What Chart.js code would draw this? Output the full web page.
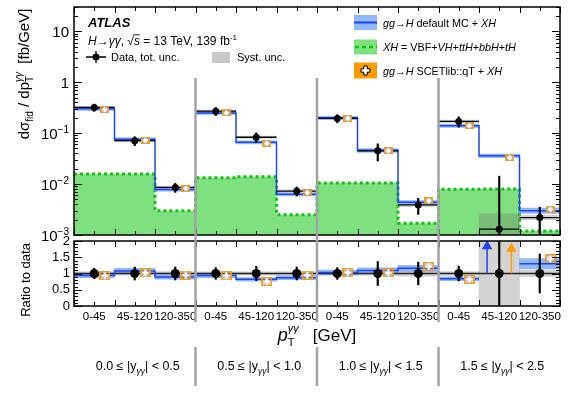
<!DOCTYPE html>
<html>
<head>
<meta charset="utf-8">
<script src="https://cdn.jsdelivr.net/npm/chart.js@4.4.1/dist/chart.umd.min.js"></script>
<style>
  html, body { margin: 0; padding: 0; background: #fff; }
  #wrap { position: relative; width: 581px; height: 394px; }
  canvas { position: absolute; left: 0; top: 0; }
</style>
</head>
<body>
<div id="wrap">
  <canvas id="mainChart" width="581" height="394"></canvas>
  <canvas id="ratioChart" width="581" height="394"></canvas>
</div>
<script>
// ---- Data (12 bins = 4 rapidity slices x 3 pT bins) ----
const binLabels = ['0-45', '45-120', '120-350', '0-45', '45-120', '120-350', '0-45', '45-120', '120-350', '0-45', '45-120', '120-350'];
const rapidityLow = ['0.0', '0.5', '1.0', '1.5'];
const rapidityHigh = ['0.5', '1.0', '1.5', '2.5'];

// fb/GeV
const dataXs = [0.32, 0.071, 0.0086, 0.27, 0.083, 0.0073, 0.195, 0.045, 0.0039, 0.17, 0.0013, 0.0022];
const dataTotUnc = [0.16, 0.2, 0.2, 0.18, 0.22, 0.2, 0.18, 0.37, 0.35, 0.23, 10, 0.6];     // relative
const dataSystUnc = [0.05, 0.05, 0.06, 0.05, 0.05, 0.06, 0.05, 0.06, 0.08, 0.06, 1.0, 0.1]; // relative
const defaultMC = [0.30, 0.076, 0.0078, 0.25, 0.066, 0.0063, 0.20, 0.046, 0.0044, 0.14, 0.036, 0.0030];
const defaultMCUnc = [0.07, 0.07, 0.07, 0.07, 0.07, 0.07, 0.07, 0.08, 0.08, 0.07, 0.08, 0.12];
const xhOnly = [0.0157, 0.0157, 0.0030, 0.0133, 0.0139, 0.0025, 0.0105, 0.0105, 0.0017, 0.0079, 0.0080, 0.0012];
const scetlib = [0.29, 0.072, 0.0082, 0.25, 0.063, 0.0068, 0.195, 0.045, 0.0047, 0.14, 0.033, 0.0032];

// ratio to data (null = off scale, drawn as arrow)
const ratioMC = [0.94, 1.08, 0.89, 0.94, 0.82, 0.87, 1.03, 1.09, 1.16, 0.84, null, 1.30];
const ratioSCET = [0.93, 1.02, 0.95, 0.93, 0.75, 0.95, 1.03, 1.02, 1.22, 0.82, null, 1.45];

const yTicksMain = [1e-3, 1e-2, 1e-1, 1, 10];
const yTicksRatio = [0, 0.5, 1, 1.5, 2];

const NB = 3; // pT bins per slice
const NBINS = dataXs.length;
const binCenters = dataXs.map((_, i) => i + 0.5);

// ---- Colours ----
const BLUE = '#1e46f0';
const BLUE_BAND = 'rgba(105,160,255,0.75)';
const GREEN_FILL = '#7fe07f';
const GREEN_LINE = '#12c412';
const ORANGE = '#ff9a00';
const SYST = 'rgba(110,110,110,0.3)';
const SEP = '#a3a3a3';
const FONT = '"Liberation Sans", Arial, Helvetica, sans-serif';

// ---- helpers ----
function histPoints(values, breakEvery) {
  const pts = [];
  values.forEach((v, i) => {
    if (v == null) { pts.push({ x: i + 1, y: null }); return; }
    pts.push({ x: i, y: v }, { x: i + 1, y: v });
    if (breakEvery && (i + 1) % breakEvery === 0) pts.push({ x: i + 1, y: null });
  });
  return pts;
}
function bandBars(values, rel, floor) {
  return values.map((v, i) => v == null ? null : { x: i + 0.5, y: [Math.max(v * (1 - rel[i]), floor), v * (1 + rel[i])] })
    .filter(p => p);
}
function fontOf(p) { return `${p.style || 'normal'} ${p.size || 12}px ${FONT}`; }
function richWidth(ctx, parts) {
  let w = 0, held = 0;
  parts.forEach(p => {
    ctx.font = fontOf(p);
    const pw = ctx.measureText(p.t).width;
    if (p.hold) { held = pw; return; }
    w += Math.max(pw, held); held = 0;
  });
  return w + held;
}
function drawRich(ctx, parts, x, y, align) {
  const w = richWidth(ctx, parts);
  let cx = align === 'center' ? x - w / 2 : align === 'right' ? x - w : x;
  let held = 0;
  ctx.textAlign = 'left';
  ctx.textBaseline = 'alphabetic';
  parts.forEach(p => {
    ctx.font = fontOf(p);
    const pw = ctx.measureText(p.t).width;
    ctx.fillText(p.t, cx, y + (p.dy || 0));
    if (p.over) {
      ctx.beginPath();
      ctx.moveTo(cx - 1, y - p.size * 0.85);
      ctx.lineTo(cx + pw, y - p.size * 0.85);
      ctx.lineWidth = 0.8;
      ctx.stroke();
    }
    if (p.hold) { held = pw; return; }
    cx += Math.max(pw, held); held = 0;
  });
}
function plusPath(g, cx, cy, arm, half) {
  g.beginPath();
  g.moveTo(cx - half, cy - arm); g.lineTo(cx + half, cy - arm); g.lineTo(cx + half, cy - half);
  g.lineTo(cx + arm, cy - half); g.lineTo(cx + arm, cy + half); g.lineTo(cx + half, cy + half);
  g.lineTo(cx + half, cy + arm); g.lineTo(cx - half, cy + arm); g.lineTo(cx - half, cy + half);
  g.lineTo(cx - arm, cy + half); g.lineTo(cx - arm, cy - half); g.lineTo(cx - half, cy - half);
  g.closePath();
}
function scetMarker(w, h, arm) {
  const c = document.createElement('canvas');
  c.width = w; c.height = h;
  const g = c.getContext('2d');
  g.strokeStyle = ORANGE; g.lineWidth = 1.6;
  g.strokeRect(0.8, 0.8, w - 1.6, h - 1.6);
  plusPath(g, w / 2, h / 2, arm, 1.4);
  g.fillStyle = '#fff'; g.fill();
  g.strokeStyle = '#999'; g.lineWidth = 0.7; g.stroke();
  return c;
}
function drawFrame(ctx, a, x, yScale, major, minor, majLen, minLen) {
  ctx.strokeStyle = '#000';
  ctx.lineWidth = 1;
  ctx.beginPath();
  for (let v = 0; v <= NBINS; v += 0.5) {
    const px = Math.round(x.getPixelForValue(v)) + 0.5;
    const len = Number.isInteger(v) ? 6 : 4;
    ctx.moveTo(px, a.bottom); ctx.lineTo(px, a.bottom - len);
    ctx.moveTo(px, a.top); ctx.lineTo(px, a.top + len);
  }
  major.forEach(v => {
    const py = Math.round(yScale.getPixelForValue(v)) + 0.5;
    ctx.moveTo(a.left, py); ctx.lineTo(a.left + majLen, py);
    ctx.moveTo(a.right, py); ctx.lineTo(a.right - majLen, py);
  });
  minor.forEach(v => {
    const py = Math.round(yScale.getPixelForValue(v)) + 0.5;
    ctx.moveTo(a.left, py); ctx.lineTo(a.left + minLen, py);
    ctx.moveTo(a.right, py); ctx.lineTo(a.right - minLen, py);
  });
  ctx.stroke();
  ctx.lineWidth = 1.5;
  ctx.strokeRect(a.left, a.top, a.right - a.left, a.bottom - a.top);
}

const yMinorMain = [];
yTicksMain.forEach(d => { for (let k = 2; k <= 9; k++) if (k * d <= 30) yMinorMain.push(k * d); });
const yMinorRatio = [];
for (let v = 0.1; v < 2; v += 0.1) if (Math.abs(v * 2 - Math.round(v * 2)) > 1e-6) yMinorRatio.push(v);

// ---- Main panel decorations ----
const mainDecor = {
  id: 'mainDecor',
  afterDraw(chart) {
    const { ctx, chartArea: a, scales: { x, y } } = chart;
    ctx.save();
    ctx.fillStyle = '#000';
    drawFrame(ctx, a, x, y, yTicksMain, yMinorMain, 8, 4);

    // y tick labels
    yTicksMain.forEach(v => {
      const e = Math.round(Math.log10(v));
      const parts = e < 0
        ? [{ t: '10', size: 15 }, { t: '−' + (-e), size: 10, dy: -6 }]
        : [{ t: e === 0 ? '1' : '10', size: 15 }];
      drawRich(ctx, parts, a.left - 5, y.getPixelForValue(v) + 5.5, 'right');
    });

    // y title
    ctx.save();
    ctx.translate(29, 74);
    ctx.rotate(-Math.PI / 2);
    drawRich(ctx, [
      { t: 'dσ', size: 15 }, { t: 'fid', size: 10, dy: 4 }, { t: ' / dp', size: 15 },
      { t: 'γγ', size: 10, style: 'italic', dy: -7, hold: true }, { t: 'T', size: 10, dy: 4 },
      { t: '  [fb/GeV]', size: 15 }
    ], 0, 0, 'center');
    ctx.restore();

    // ATLAS label
    drawRich(ctx, [{ t: 'ATLAS', style: 'italic bold', size: 13 }], 88, 27, 'left');
    ctx.strokeStyle = '#000';
    drawRich(ctx, [
      { t: 'H', style: 'italic', size: 12 }, { t: '→', size: 12 }, { t: 'γγ', style: 'italic', size: 12 },
      { t: ', √', size: 12 }, { t: 's', style: 'italic', size: 12, over: true },
      { t: ' = 13 TeV, 139 fb', size: 12 }, { t: '-1', size: 8, dy: -5 }
    ], 88, 45, 'left');

    // data legend entry
    ctx.lineWidth = 1.3;
    ctx.beginPath();
    ctx.moveTo(86, 57); ctx.lineTo(106, 57);
    ctx.moveTo(96, 51); ctx.lineTo(96, 63);
    ctx.stroke();
    ctx.beginPath(); ctx.arc(96, 57, 3.5, 0, Math.PI * 2); ctx.fill();
    drawRich(ctx, [{ t: 'Data, tot. unc.', size: 11 }], 111, 61, 'left');
    ctx.fillStyle = '#c8c8c8';
    ctx.fillRect(212, 52, 18, 11);
    ctx.fillStyle = '#000';
    drawRich(ctx, [{ t: 'Syst. unc.', size: 11 }], 237, 61, 'left');

    // right legend
    ctx.fillStyle = BLUE_BAND; ctx.fillRect(354, 15, 23, 15);
    ctx.strokeStyle = BLUE; ctx.lineWidth = 2;
    ctx.beginPath(); ctx.moveTo(354, 22.5); ctx.lineTo(377, 22.5); ctx.stroke();
    ctx.fillStyle = GREEN_FILL; ctx.fillRect(354, 39.5, 23, 15);
    ctx.strokeStyle = GREEN_LINE; ctx.lineWidth = 2.5; ctx.setLineDash([4, 3]);
    ctx.beginPath(); ctx.moveTo(355, 47); ctx.lineTo(377, 47); ctx.stroke();
    ctx.setLineDash([]);
    ctx.fillStyle = ORANGE; ctx.fillRect(354, 62.5, 23, 16);
    plusPath(ctx, 365.5, 70.5, 4.5, 1.7);
    ctx.fillStyle = '#fff'; ctx.fill();
    ctx.strokeStyle = '#000'; ctx.lineWidth = 1; ctx.stroke();

    ctx.fillStyle = '#000';
    const it = 'italic', fs = 10.8;
    drawRich(ctx, [{ t: 'gg', style: it, size: fs }, { t: '→', size: fs }, { t: 'H', style: it, size: fs },
      { t: ' default MC + ', size: fs }, { t: 'XH', style: it, size: fs }], 383, 26.5, 'left');
    drawRich(ctx, [{ t: 'XH', style: it, size: fs }, { t: ' = VBF+', size: fs }, { t: 'VH', style: it, size: fs },
      { t: '+', size: fs }, { t: 'ttH', style: it, size: fs }, { t: '+', size: fs }, { t: 'bbH', style: it, size: fs },
      { t: '+', size: fs }, { t: 'tH', style: it, size: fs }], 383, 51, 'left');
    drawRich(ctx, [{ t: 'gg', style: it, size: fs }, { t: '→', size: fs }, { t: 'H', style: it, size: fs },
      { t: ' SCETlib::qT + ', size: fs }, { t: 'XH', style: it, size: fs }], 383, 74.5, 'left');
    ctx.restore();
  }
};

// ---- Ratio panel + bottom decorations ----
const ratioDecor = {
  id: 'ratioDecor',
  afterDraw(chart) {
    const { ctx, chartArea: a, scales: { x, y } } = chart;
    ctx.save();
    ctx.fillStyle = '#000';
    drawFrame(ctx, a, x, y, yTicksRatio, yMinorRatio, 8, 4);

    // slice separators
    ctx.strokeStyle = SEP;
    ctx.lineWidth = 2.5;
    ctx.beginPath();
    for (let g = 1; g < rapidityLow.length; g++) {
      const px = x.getPixelForValue(g * NB);
      ctx.moveTo(px, 78); ctx.lineTo(px, 322);
      ctx.moveTo(px, 347); ctx.lineTo(px, 386);
    }
    ctx.stroke();

    // ratio title
    ctx.save();
    ctx.translate(30, 280);
    ctx.rotate(-Math.PI / 2);
    drawRich(ctx, [{ t: 'Ratio to data', size: 13 }], 0, 0, 'center');
    ctx.restore();

    // x title
    drawRich(ctx, [
      { t: 'p', style: 'italic', size: 18 }, { t: 'γγ', style: 'italic', size: 11, dy: -9, hold: true },
      { t: 'T', size: 11, dy: 5 }, { t: '   [GeV]', size: 17 }
    ], (a.left + a.right) / 2, 341, 'center');

    // slice labels
    rapidityLow.forEach((lo, g) => {
      const cx = x.getPixelForValue(g * NB + NB / 2);
      drawRich(ctx, [
        { t: lo + ' ≤ |y', size: 12.5 }, { t: 'γγ', style: 'italic', size: 8.5, dy: 4 },
        { t: '| < ' + rapidityHigh[g], size: 12.5 }
      ], cx + 3, 370, 'center');
    });
    ctx.restore();
  }
};

// ---- Main chart ----
const centerTicks = s => { s.ticks = binCenters.map(v => ({ value: v })); };
const SCET_OFFSET = 0.26;

new Chart(document.getElementById('mainChart'), {
  type: 'scatter',
  data: {
    datasets: [
      { type: 'line', data: histPoints(xhOnly), borderColor: GREEN_LINE, backgroundColor: GREEN_FILL,
        borderWidth: 3, borderDash: [3, 3], fill: 'start', pointRadius: 0, order: 10 },
      { type: 'bar', data: bandBars(dataXs, dataSystUnc, 1e-5), backgroundColor: SYST,
        grouped: false, barPercentage: 1, categoryPercentage: 1, order: 9 },
      { type: 'bar', data: bandBars(defaultMC, defaultMCUnc, 1e-5), backgroundColor: BLUE_BAND,
        grouped: false, barPercentage: 1, categoryPercentage: 1, order: 8 },
      { type: 'line', data: histPoints(defaultMC, NB), borderColor: BLUE, borderWidth: 1.5,
        pointRadius: 0, spanGaps: false, order: 7 },
      { type: 'line', data: histPoints(dataXs, 1), borderColor: '#000', borderWidth: 1.3,
        pointRadius: 0, spanGaps: false, order: 6 },
      { type: 'scatter', data: scetlib.map((v, i) => ({ x: i + 0.5 + SCET_OFFSET, y: v })),
        pointStyle: scetMarker(9, 7, 3), order: 5 },
      { type: 'bar', data: bandBars(dataXs, dataTotUnc, 1e-5), backgroundColor: '#000',
        grouped: false, barPercentage: 1, categoryPercentage: 1, maxBarThickness: 1.5, order: 4 },
      { type: 'scatter', data: dataXs.map((v, i) => ({ x: i + 0.5, y: v })),
        pointRadius: 3.5, backgroundColor: '#000', borderWidth: 0, order: 3 }
    ]
  },
  options: {
    responsive: false, animation: false, events: [],
    layout: { padding: { left: 0, top: 7, right: 21, bottom: 159 } },
    plugins: { legend: { display: false }, tooltip: { enabled: false } },
    scales: {
      x: { type: 'linear', min: 0, max: NBINS, offset: false, display: false, afterBuildTicks: centerTicks },
      y: { type: 'logarithmic', min: 1e-3, max: 30, grid: { display: false }, border: { display: false },
        ticks: { display: false }, afterFit: s => { s.width = 74; } }
    }
  },
  plugins: [mainDecor]
});

// ---- Ratio chart ----
const arrowBins = ratioMC.map((v, i) => v == null ? i : null).filter(i => i != null);
const arrowSets = [];
arrowBins.forEach(i => {
  arrowSets.push({ type: 'line', data: [{ x: i + 0.5 - 0.3, y: 1 }, { x: i + 0.5 - 0.3, y: 1.84 }],
    borderColor: BLUE, backgroundColor: BLUE, borderWidth: 1.5, pointRadius: [0, 4.5], pointStyle: 'triangle', order: 6 });
  arrowSets.push({ type: 'line', data: [{ x: i + 0.5 + 0.3, y: 1 }, { x: i + 0.5 + 0.3, y: 1.76 }],
    borderColor: ORANGE, backgroundColor: ORANGE, borderWidth: 1.5, pointRadius: [0, 4.5], pointStyle: 'triangle', order: 6 });
});
const ones = dataXs.map(() => 1);

new Chart(document.getElementById('ratioChart'), {
  type: 'scatter',
  data: {
    datasets: [
      { type: 'bar', data: bandBars(ones, dataSystUnc, -1), backgroundColor: SYST,
        grouped: false, barPercentage: 1, categoryPercentage: 1, order: 10 },
      { type: 'bar', data: bandBars(ratioMC, defaultMCUnc, -1), backgroundColor: BLUE_BAND,
        grouped: false, barPercentage: 1, categoryPercentage: 1, order: 9 },
      { type: 'line', data: histPoints(ones), borderColor: '#222', borderWidth: 1.3,
        pointRadius: 0, order: 8 },
      { type: 'line', data: histPoints(ratioMC, NB), borderColor: BLUE, borderWidth: 1.5,
        pointRadius: 0, spanGaps: false, order: 7 },
      ...arrowSets,
      { type: 'scatter', data: ratioSCET.map((v, i) => v == null ? null : ({ x: i + 0.5 + SCET_OFFSET, y: v })).filter(p => p),
        pointStyle: scetMarker(11, 9, 4), order: 5 },
      { type: 'bar', data: bandBars(ones, dataTotUnc, -20), backgroundColor: '#000',
        grouped: false, barPercentage: 1, categoryPercentage: 1, maxBarThickness: 1.5, order: 4 },
      { type: 'scatter', data: ones.map((v, i) => ({ x: i + 0.5, y: v })),
        pointRadius: 4.5, backgroundColor: '#000', borderWidth: 0, order: 3 }
    ]
  },
  options: {
    responsive: false, animation: false, events: [],
    layout: { padding: { left: 0, top: 241, right: 21, bottom: 68 } },
    plugins: { legend: { display: false }, tooltip: { enabled: false } },
    scales: {
      x: { type: 'linear', min: 0, max: NBINS, offset: false, grid: { display: false, drawTicks: false }, border: { display: false },
        afterBuildTicks: centerTicks,
        ticks: { autoSkip: false, maxRotation: 0, padding: 4, color: '#000',
          font: { family: FONT, size: 11.5 }, callback: (v, i) => binLabels[i] },
        afterFit: s => { s.height = 20; } },
      y: { type: 'linear', min: 0, max: 2, grid: { display: false, drawTicks: false }, border: { display: false },
        afterBuildTicks: s => { s.ticks = yTicksRatio.map(v => ({ value: v })); },
        ticks: { autoSkip: false, padding: 4, color: '#000', font: { family: FONT, size: 13 }, callback: v => String(v) },
        afterFit: s => { s.width = 74; } }
    }
  },
  plugins: [ratioDecor]
});
</script>
</body>
</html>
